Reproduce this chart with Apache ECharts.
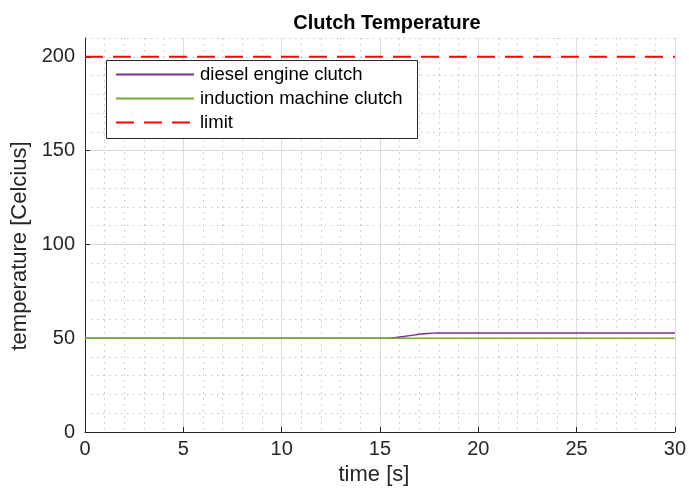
<!DOCTYPE html>
<html>
<head>
<meta charset="utf-8">
<script src="https://cdn.jsdelivr.net/npm/echarts@6/dist/echarts.min.js"></script>
<style>
  html, body { margin: 0; padding: 0; background: #fff; }
  #chart { width: 689px; height: 491px; }
</style>
</head>
<body>
<div id="chart"></div>
<script>
// Time samples (s) and clutch temperatures (°C)
const dieselTime = [0, 15.4, 15.8, 16.2, 16.6, 17.0, 17.4, 17.8, 30];
const dieselTemp = [50, 50, 50.4, 50.9, 51.5, 52.1, 52.5, 52.7, 52.7];
const inductionTime = [0, 30];
const inductionTemp = [50, 50];
const limitTime = [0, 30];
const limitTemp = [200, 200];
const seriesNames = ['diesel engine clutch', 'induction machine clutch', 'limit'];
const yTicks = [0, 50, 100, 150, 200];

const pair = (xs, ys) => xs.map((x, i) => [x, ys[i]]);

const FONT = "'Liberation Sans', Arial, Helvetica, sans-serif";
const INK = '#262626';
const MAJOR = '#dcdcdc';
const MINOR = '#c4c4c4';

const chart = echarts.init(document.getElementById('chart'), null, { renderer: 'canvas' });

chart.setOption({
  animation: false,
  backgroundColor: '#ffffff',
  textStyle: { fontFamily: FONT },
  title: {
    text: 'Clutch Temperature',
    left: 382,
    textAlign: 'center',
    top: 8,
    textStyle: { fontFamily: FONT, fontSize: 20, fontWeight: 'bold', color: '#000' }
  },
  grid: { left: 85, right: 10, top: 38, bottom: 59, containLabel: false },
  xAxis: {
    type: 'value',
    min: 0, max: 30, interval: 5,
    name: 'time [s]',
    nameLocation: 'middle',
    nameGap: 30,
    nameTextStyle: { fontFamily: FONT, fontSize: 22, color: INK, padding: [0, 12, 0, 0] },
    axisLine: { show: true, onZero: false, lineStyle: { color: INK, width: 1 } },
    axisTick: { show: true, inside: true, length: 5, lineStyle: { color: INK } },
    axisLabel: { fontFamily: FONT, fontSize: 20, color: INK, margin: 7 },
    splitLine: { show: true, lineStyle: { color: MAJOR, width: 1 } },
    minorTick: { show: false, splitNumber: 5 },
    minorSplitLine: { show: true, lineStyle: { color: MINOR, width: 1, type: [1.5, 4.5] } }
  },
  yAxis: [
    {
      type: 'value',
      min: 0, max: 210, interval: 50,
      name: 'temperature [Celcius]',
      nameLocation: 'middle',
      nameGap: 51,
      nameTextStyle: { fontFamily: FONT, fontSize: 22, color: INK, padding: [0, 22, 0, 0] },
      axisLine: { show: true, onZero: false, lineStyle: { color: INK, width: 1 } },
      axisTick: { show: true, inside: true, length: 5, lineStyle: { color: INK }, customValues: yTicks },
      axisLabel: { fontFamily: FONT, fontSize: 20, color: INK, margin: 10, customValues: yTicks },
      splitLine: { show: true, showMaxLine: false, lineStyle: { color: MAJOR, width: 1 } }
    },
    {
      // fine dotted grid every 10 °C
      type: 'value',
      min: 0, max: 210, interval: 10,
      position: 'left',
      axisLine: { show: false },
      axisTick: { show: false },
      axisLabel: { show: false },
      splitLine: { show: true, lineStyle: { color: MINOR, width: 1, type: [1.5, 4.5] } }
    }
  ],
  legend: {
    orient: 'vertical',
    left: 115,
    top: 65,
    padding: 0,
    itemWidth: 78,
    itemHeight: 14,
    itemGap: 5,
    data: seriesNames,
    itemStyle: { opacity: 0 },
    textStyle: { fontFamily: FONT, fontSize: 18.5, color: '#000', padding: [0, 0, 0, 1] }
  },
  graphic: [{
    type: 'rect',
    z: 3,
    shape: { x: 106.5, y: 60.5, width: 311, height: 78 },
    style: { fill: '#ffffff', stroke: INK, lineWidth: 1 }
  }],
  series: [
    {
      name: seriesNames[0], type: 'line', yAxisIndex: 0,
      data: pair(dieselTime, dieselTemp),
      symbol: 'none', color: '#7E2F8E',
      lineStyle: { color: '#7E2F8E', width: 1.5 }
    },
    {
      name: seriesNames[1], type: 'line', yAxisIndex: 0,
      data: pair(inductionTime, inductionTemp),
      symbol: 'none', color: '#77AC30',
      lineStyle: { color: '#77AC30', width: 1.5 }
    },
    {
      name: seriesNames[2], type: 'line', yAxisIndex: 0,
      data: pair(limitTime, limitTemp),
      symbol: 'none', color: '#FF0000',
      lineStyle: { color: '#FF0000', width: 2, type: [18, 10] }
    }
  ]
});
</script>
</body>
</html>
